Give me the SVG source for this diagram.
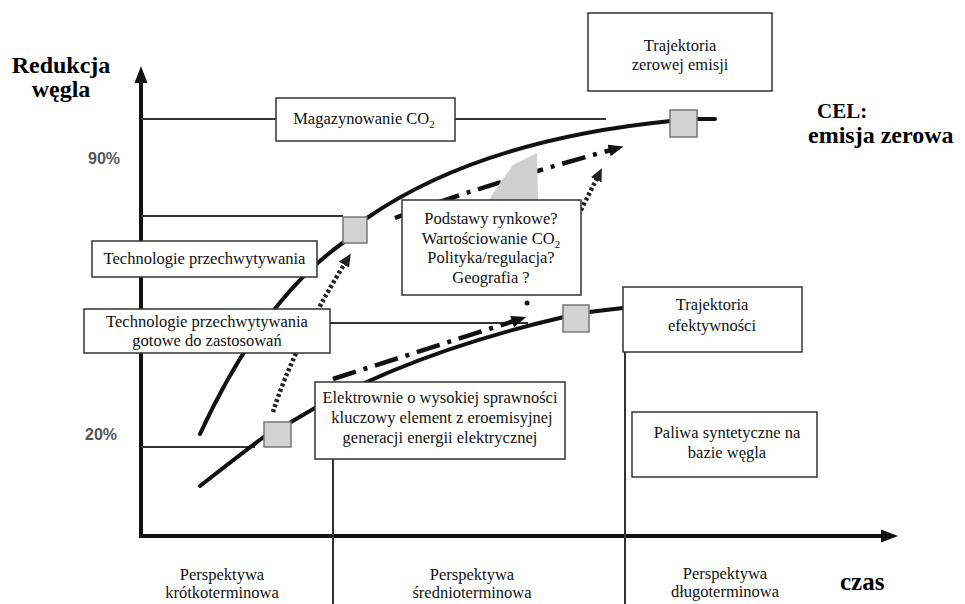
<svg xmlns="http://www.w3.org/2000/svg" width="965" height="604" viewBox="0 0 965 604">
<defs>
<style>
.box{fill:#fff;stroke:#333;stroke-width:1.5}
.sq{fill:#d3d3d3;stroke:#777;stroke-width:1.5}
.t{font-family:"Liberation Serif","Times New Roman",serif;font-size:16.5px;fill:#111;text-anchor:middle}
.tb{font-family:"Liberation Serif","Times New Roman",serif;font-weight:bold;fill:#000}
.pct{font-family:"Liberation Sans",Arial,sans-serif;font-weight:bold;font-size:16px;fill:#555}
.thin{stroke:#333;stroke-width:2;fill:none}
.curve{stroke:#111;stroke-width:4;fill:none;stroke-linecap:round}
.dashdot{stroke:#111;stroke-width:4.5;fill:none;stroke-dasharray:24,8,4,8}
.dotted{stroke:#222;stroke-width:4.5;fill:none;stroke-dasharray:3,2.5}
</style>
<marker id="ah" markerUnits="userSpaceOnUse" markerWidth="18" markerHeight="14" refX="2" refY="6" orient="auto">
<path d="M0,0 L15,6 L0,12 z" fill="#111"/>
</marker>
<marker id="ahd" markerUnits="userSpaceOnUse" markerWidth="16" markerHeight="14" refX="2" refY="6" orient="auto">
<path d="M0,0 L13,6 L0,12 z" fill="#222"/>
</marker>
</defs>
<rect width="965" height="604" fill="#fff"/>

<g id="axes">
<line x1="141" y1="537" x2="141" y2="80" stroke="#111" stroke-width="4"/>
<path d="M141,66 L134.5,83 L147.5,83 z" fill="#111"/>
<line x1="139" y1="536" x2="884" y2="536" stroke="#111" stroke-width="4"/>
<path d="M898,536 L881,529.5 L881,542.5 z" fill="#111"/>
</g>

<g id="connectors">
<line class="thin" x1="141" y1="119" x2="276" y2="119"/>
<line class="thin" x1="455" y1="119" x2="606" y2="119"/>
<line class="thin" x1="141" y1="216" x2="343" y2="216" stroke-width="2.5"/>
<line class="thin" x1="141" y1="447" x2="255" y2="447" stroke-width="2.5"/>
<line class="thin" x1="330" y1="323" x2="528" y2="323"/>
<line class="thin" x1="333" y1="459" x2="333" y2="604"/>
<line class="thin" x1="625" y1="352" x2="625" y2="604"/>
<path class="curve" d="M200,434 Q262,300 344,242"/>
<path class="curve" d="M367,218 Q480,140 671,121"/>
<line class="curve" x1="697" y1="119" x2="715" y2="119"/>
<path class="curve" d="M200,486 Q236,458 265,436"/>
<path class="curve" d="M291,422 Q400,355 564,317"/>
<path class="curve" d="M589,312 L623,308"/>
<path class="dashdot" d="M333,379 L514,321" marker-end="url(#ah)"/>
<path class="dashdot" d="M395,218 Q480,186 611,150" marker-end="url(#ah)"/>
<path class="dotted" d="M273,412 Q293,348 345,263" marker-end="url(#ahd)"/>
<path class="dotted" d="M576,220 L597,178" marker-end="url(#ahd)"/>
<circle cx="527" cy="303" r="2.5" fill="#111"/>
</g>

<path id="gray-wedge" d="M513,165 L537,153 L538,201 L488,201 L500,183 Z" fill="#cfcfcf"/>

<g id="label-reduction">
<text class="tb" x="61" y="73" font-size="24" text-anchor="middle">Redukcja</text>
<text class="tb" x="61" y="97" font-size="24" text-anchor="middle">węgla</text>
</g>
<g id="label-goal">
<text class="tb" x="817" y="118" font-size="21">CEL:</text>
<text class="tb" x="808" y="143" font-size="24">emisja zerowa</text>
</g>
<text class="tb" x="840" y="590" font-size="25">czas</text>
<text class="pct" x="88" y="164">90%</text>
<text class="pct" x="85" y="440">20%</text>

<g id="node-zero">
<rect class="box" x="588" y="13" width="184" height="78"/>
<text class="t" x="680" y="51" font-size="16">Trajektoria</text>
<text class="t" x="680" y="70" font-size="16">zerowej emisji</text>
</g>
<g id="node-storage">
<rect class="box" x="276" y="98" width="179" height="43"/>
<text class="t" x="364" y="124">Magazynowanie CO<tspan font-size="11" dy="4">2</tspan></text>
</g>
<g id="node-capture">
<rect class="box" x="92" y="241" width="225" height="36"/>
<text class="t" x="204.5" y="264">Technologie przechwytywania</text>
</g>
<g id="node-capture-ready">
<rect class="box" x="84" y="309" width="246" height="44"/>
<text class="t" x="207" y="327">Technologie przechwytywania</text>
<text class="t" x="207" y="346">gotowe do zastosowań</text>
</g>
<g id="node-questions">
<rect class="box" x="402" y="200" width="179" height="95"/>
<text class="t" x="491" y="224">Podstawy rynkowe?</text>
<text class="t" x="491" y="244">Wartościowanie CO<tspan font-size="11" dy="4">2</tspan></text>
<text class="t" x="491" y="263">Polityka/regulacja?</text>
<text class="t" x="491" y="283">Geografia ?</text>
</g>
<g id="node-efficiency">
<rect class="box" x="623" y="287" width="179" height="65"/>
<text class="t" x="712" y="310" font-size="16">Trajektoria</text>
<text class="t" x="712" y="331" font-size="16">efektywności</text>
</g>
<g id="node-fuels">
<rect class="box" x="632" y="412" width="185" height="65"/>
<text class="t" x="727" y="438">Paliwa syntetyczne  na</text>
<text class="t" x="727" y="458">bazie węgla</text>
</g>
<g id="node-plants">
<rect class="box" x="315" y="382" width="250" height="77"/>
<text class="t" x="440" y="403">Elektrownie o wysokiej sprawności</text>
<text class="t" x="442" y="423">kluczowy element z eroemisyjnej</text>
<text class="t" x="440" y="443">generacji energii elektrycznej</text>
</g>

<g id="milestones">
<rect class="sq" x="343" y="217" width="24" height="26"/>
<rect class="sq" x="563" y="305" width="26" height="27"/>
<rect class="sq" x="264" y="422" width="27" height="25"/>
<rect class="sq" x="670" y="110" width="27" height="27"/>
</g>

<g id="periods">
<text class="t" x="222" y="580" font-size="16">Perspektywa</text>
<text class="t" x="222" y="598" font-size="16">krótkoterminowa</text>
<text class="t" x="472" y="580" font-size="16">Perspektywa</text>
<text class="t" x="472" y="598" font-size="16">średnioterminowa</text>
<text class="t" x="725" y="579" font-size="16">Perspektywa</text>
<text class="t" x="725" y="597" font-size="16">długoterminowa</text>
</g>
</svg>
